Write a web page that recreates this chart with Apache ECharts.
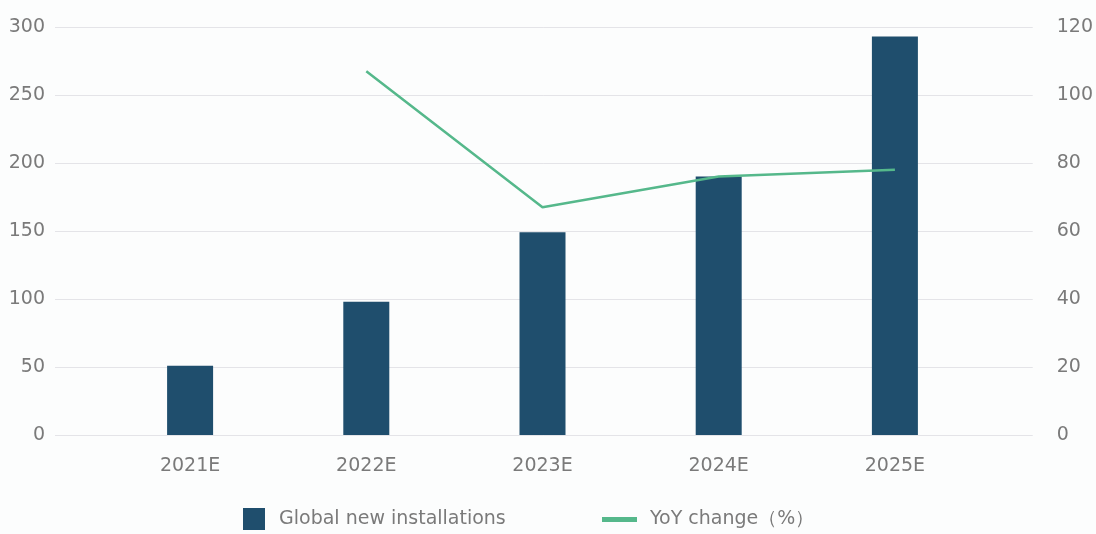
<!DOCTYPE html>
<html lang="en">
<head>
    <meta charset="UTF-8">
    <title>Global new installations</title>
    <script src="https://cdn.jsdelivr.net/npm/echarts@6/dist/echarts.min.js"></script>
    <style>
        html, body { margin: 0; padding: 0; background: #fcfdfd; }
        #chart { width: 1096px; height: 534px; }
    </style>
</head>
<body>
<div id="chart"></div>
<script>
    // data
    const years = ['2021E', '2022E', '2023E', '2024E', '2025E'];
    const installations = [51, 98, 149, 190, 293];
    const yoyChange = [null, 107, 67, 76, 78];

    const textColor = '#7a7a7a';
    const font = 'DejaVu Sans';

    const chart = echarts.init(document.getElementById('chart'));
    chart.setOption({
        backgroundColor: '#fcfdfd',
        textStyle: {fontFamily: font},
        // grid 0 only carries the axis labels + split lines, grid 1 holds the marks
        grid: [
            {left: 55, right: 63, top: 27, bottom: 99},
            {left: 102, right: 113, top: 27, bottom: 99}
        ],
        legend: [
            {
                left: 238,
                top: 503,
                itemWidth: 22,
                itemHeight: 22,
                itemGap: 10,
                textStyle: {color: textColor, fontSize: 19, fontFamily: font, padding: [0, 0, 0, 9]},
                data: [{name: 'Global new installations', icon: 'rect'}]
            },
            {
                left: 597,
                top: 505,
                itemWidth: 35,
                itemHeight: 22,
                icon: 'path://M0,0H35V5H0Z',
                lineStyle: {width: 5, cap: 'butt'},
                textStyle: {color: textColor, fontSize: 19, fontFamily: font, padding: [0, 0, 0, 8]},
                data: ['YoY change（%）']
            }
        ],
        xAxis: [
            {gridIndex: 0, type: 'category', data: years, show: false},
            {
                gridIndex: 1,
                type: 'category',
                data: years,
                axisLine: {show: false},
                axisTick: {show: false},
                axisLabel: {color: textColor, fontSize: 19, margin: 22}
            }
        ],
        yAxis: [
            {
                gridIndex: 0, type: 'value', min: 0, max: 300, interval: 50,
                axisLabel: {color: textColor, fontSize: 19, margin: 10},
                splitLine: {lineStyle: {color: '#e4e4e8', width: 1}}
            },
            {
                gridIndex: 0, type: 'value', min: 0, max: 120, interval: 20, position: 'right',
                axisLabel: {color: textColor, fontSize: 19, margin: 24},
                splitLine: {show: false}
            },
            {gridIndex: 1, type: 'value', min: 0, max: 300, show: false, splitLine: {show: false}},
            {gridIndex: 1, type: 'value', min: 0, max: 120, show: false, splitLine: {show: false}}
        ],
        series: [
            {
                name: 'Global new installations',
                type: 'bar',
                xAxisIndex: 1,
                yAxisIndex: 2,
                barWidth: 46,
                itemStyle: {color: '#1f4e6d'},
                data: installations
            },
            {
                name: 'YoY change（%）',
                type: 'line',
                xAxisIndex: 1,
                yAxisIndex: 3,
                showSymbol: false,
                lineStyle: {color: '#55b88b', width: 2.5},
                itemStyle: {color: '#55b88b'},
                data: yoyChange
            }
        ]
    });
</script>
</body>
</html>
